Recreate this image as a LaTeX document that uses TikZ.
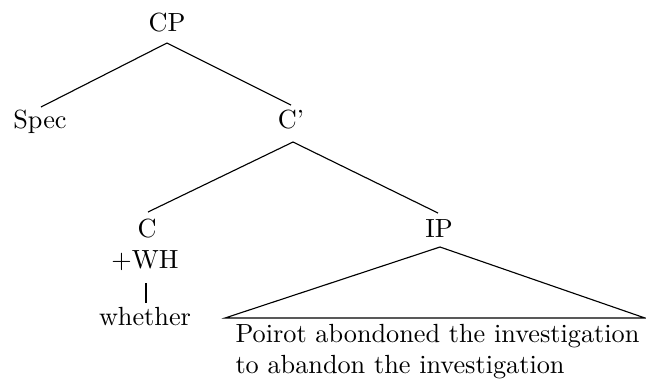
\documentclass[tikz,border=0pt]{standalone}
\usepackage{fontspec}
\begin{document}
\begin{tikzpicture}[x=0.4pt,y=-0.4pt,
  lab/.style={anchor=base,inner sep=0pt,font=\fontsize{10.5}{12.5}\selectfont\addfontfeatures{LetterSpace=4.5}},
  edge/.style={line width=0.45pt}]
\useasboundingbox (0,0) rectangle (646,381);
% labels
\node[lab] (CP) at (167,31) {CP};
\node[lab] (Spec) at (40,128) {Spec};
\node[lab] (Cbar) at (291,128) {C'};
\node[lab] (C) at (147,237) {C};
\node[lab] (IP) at (439,237) {IP};
\node[lab] (WH) at (145,268) {+WH};
\node[lab] (wh) at (145,325) {whether};
\node[lab,anchor=base west] (s1) at (235,342) {Poirot abondoned the investigation};
\node[lab,anchor=base west] (s2) at (235,373) {to abandon the investigation};
% endpoints
\coordinate (cpB) at (167,43);
\coordinate (specT) at (41,107);
\coordinate (cbarT) at (291,105);
\coordinate (cbarB) at (293,142);
\coordinate (cT) at (148,212);
\coordinate (ipT) at (438,213);
\coordinate (whT) at (146,283);
\coordinate (whB) at (146,303);
\coordinate (ipB) at (440,247);
\coordinate (triL) at (225,318);
\coordinate (triR) at (645,318);
% edges
\draw[edge] (specT) -- (cpB) -- (cbarT);
\draw[edge] (cT) -- (cbarB) -- (ipT);
\draw[edge] (whT) -- (whB);
\draw[edge] (triL) -- (ipB) -- (triR) -- cycle;
\end{tikzpicture}
\end{document}
